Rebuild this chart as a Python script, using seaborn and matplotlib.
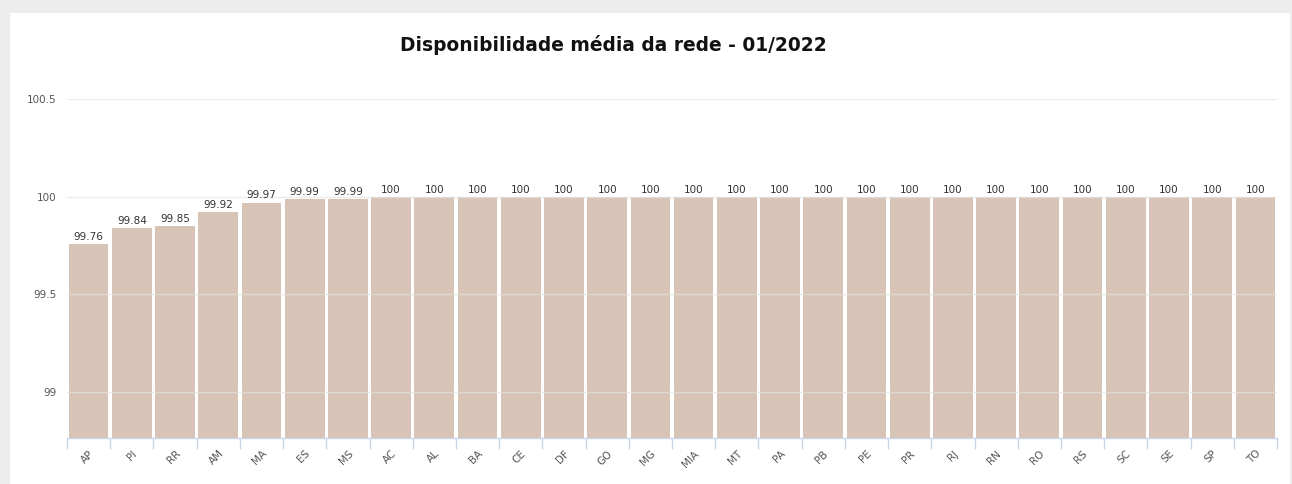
import numpy as np
import pandas as pd
import matplotlib.pyplot as plt
import matplotlib.patches as mpatches
import seaborn as sns

estados = ["AP", "PI", "RR", "AM", "MA", "ES", "MS", "AC", "AL", "BA", "CE", "DF", "GO", "MG",
           "MIA", "MT", "PA", "PB", "PE", "PR", "RJ", "RN", "RO", "RS", "SC", "SE", "SP", "TO"]
disponibilidade = [99.76, 99.84, 99.85, 99.92, 99.97, 99.99, 99.99] + [100] * 21
rotulos = ["99.76", "99.84", "99.85", "99.92", "99.97", "99.99", "99.99"] + ["100"] * 21

df = pd.DataFrame({"estado": estados, "disp": disponibilidade})

sns.set_style("white")
plt.rcParams["font.family"] = ["DejaVu Sans"]

W, H = 1292, 484
fig = plt.figure(figsize=(W / 100, H / 100), dpi=100, facecolor="#ededed")
# painel branco
fig.patches.append(mpatches.Rectangle((10 / W, 0), 1280 / W, 1 - 13 / H,
                                      transform=fig.transFigure, facecolor="white",
                                      edgecolor="none", zorder=-1))

ax = fig.add_axes([67 / W, 1 - 438 / H, (1277 - 67) / W, (438 - 99) / H])
ax.set_zorder(2)
ax.set_facecolor("none")

sns.barplot(data=df, x="estado", y="disp", color="#d7c4b6", saturation=1,
            width=0.92, ax=ax, zorder=2)
for p in ax.patches:
    p.set_edgecolor("none")

ax.set_ylim(98.765, 100.5)
ax.set_xlim(-0.5, len(estados) - 0.5)
ax.set_yticks([99, 99.5, 100, 100.5])
ax.set_yticklabels(["99", "99.5", "100", "100.5"])
ax.yaxis.grid(True, color="#e3e3e3", linewidth=1)
ax.set_axisbelow(False)
for line in ax.get_ygridlines():
    line.set_alpha(0.7)

for s in ["top", "right", "left"]:
    ax.spines[s].set_visible(False)
ax.spines["bottom"].set_color("#ccd6eb")
ax.spines["bottom"].set_linewidth(1)

ax.tick_params(axis="y", left=False, labelsize=7.5, labelcolor="#555555", pad=4)
ax.set_xticks(np.arange(len(estados)))
ax.set_xticklabels(estados, rotation=45, ha="right", rotation_mode="anchor",
                   fontsize=7.5, color="#555555")
ax.tick_params(axis="x", which="major", bottom=False, pad=4)
# marcas entre categorias
ax.set_xticks(np.arange(len(estados) + 1) - 0.5, minor=True)
ax.tick_params(axis="x", which="minor", bottom=True, length=8, color="#ccd6eb", width=1)

for i, (v, r) in enumerate(zip(disponibilidade, rotulos)):
    ax.annotate(r, (i, v), xytext=(0, 1.5), textcoords="offset points",
                ha="center", va="bottom", fontsize=7.5, color="#333333")

ax.set_xlabel("")
ax.set_ylabel("")
fig.text(613 / W, 1 - 45 / H, "Disponibilidade média da rede - 01/2022",
         ha="center", va="center", fontsize=13.4, fontweight="bold", color="#111111")

fig.savefig("out.png", dpi=100, facecolor=fig.get_facecolor())
